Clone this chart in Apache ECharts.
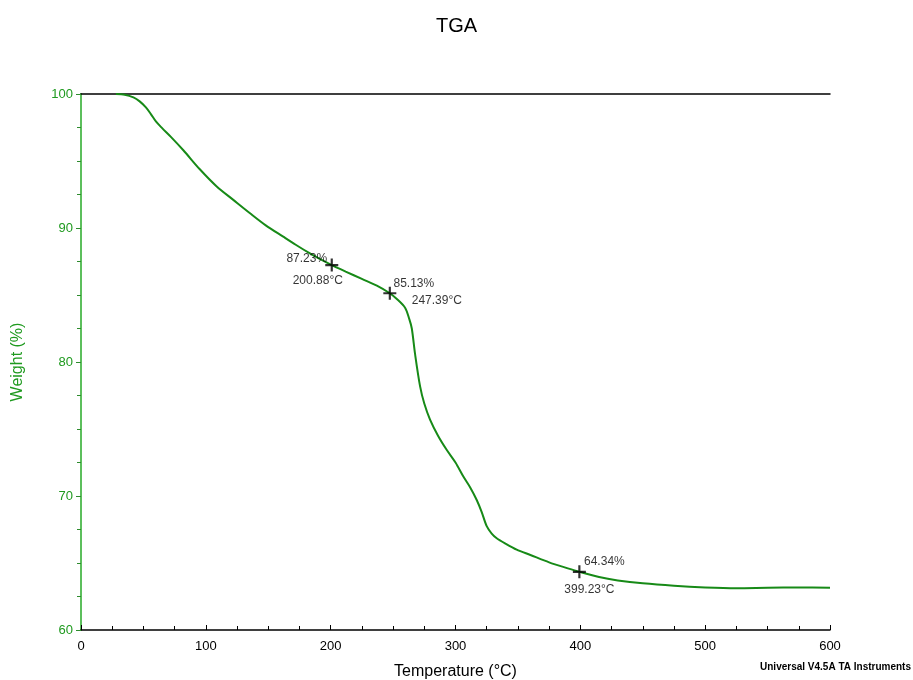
<!DOCTYPE html>
<html>
<head>
<meta charset="utf-8">
<script src="https://cdn.jsdelivr.net/npm/echarts@6/dist/echarts.min.js"></script>
<style>html,body{margin:0;padding:0;background:#fff;overflow:hidden}#c{width:913px;height:680px}</style>
</head>
<body>
<div id="c"></div>
<script>
const temperature = [28, 35, 42, 47, 52, 56, 60, 65, 72, 82, 95, 108.7, 122, 135.4, 148, 162, 172, 183.4, 192, 200.88, 212, 225, 237, 247.39, 253, 259.6, 263, 265, 267.6, 271.6, 275, 279.6, 286, 292.9, 300, 306.3, 312, 317, 321, 325, 329, 333, 340, 349, 360, 375, 390, 399.23, 415, 430, 450, 475, 500, 525, 550, 575, 600];
const weight = [100, 99.95, 99.75, 99.45, 99.0, 98.5, 97.95, 97.45, 96.8, 95.8, 94.4, 93.1, 92.1, 91.1, 90.2, 89.35, 88.75, 88.1, 87.65, 87.23, 86.75, 86.2, 85.7, 85.13, 84.7, 84.05, 83.2, 82.5, 80.6, 78.2, 76.9, 75.7, 74.5, 73.45, 72.5, 71.45, 70.6, 69.7, 68.8, 67.75, 67.2, 66.85, 66.45, 66.0, 65.6, 65.05, 64.6, 64.34, 63.95, 63.7, 63.48, 63.3, 63.18, 63.12, 63.15, 63.17, 63.15];
const markTemps = [200.88, 247.39, 399.23];
const markWeights = [87.23, 85.13, 64.34];
const xTicks = [0, 100, 200, 300, 400, 500, 600];
const yTicks = [60, 70, 80, 90, 100];

const chart = echarts.init(document.getElementById('c'));
const FONT = '"Liberation Sans", Arial, sans-serif';
const pctOffsets = [[-25, -6], [24, -10], [25, -10]];
const degOffsets = [[-14, 16], [47, 7], [10, 18]];
const plus = 'path://M-1,-6L1,-6L1,-1L6,-1L6,1L1,1L1,6L-1,6L-1,1L-6,1L-6,-1L-1,-1Z';

chart.setOption({
  animation: false,
  title: {text: 'TGA', left: 'center', top: 11, textStyle: {fontFamily: FONT, fontSize: 20, fontWeight: 'normal', color: '#000'}},
  grid: {left: 81, right: 83, top: 94, bottom: 50, containLabel: false, outerBoundsMode: 'none'},
  xAxis: [{
    type: 'value', min: 0, max: 600, interval: 100,
    name: 'Temperature (°C)', nameLocation: 'middle', nameGap: 34,
    nameTextStyle: {fontFamily: FONT, fontSize: 16, color: '#000'},
    axisLine: {lineStyle: {color: '#000', width: 1.5}},
    axisTick: {inside: true, length: 5, lineStyle: {color: '#000'}},
    minorTick: {show: true, splitNumber: 4, length: 4, lineStyle: {color: '#000'}},
    axisLabel: {fontFamily: FONT, fontSize: 13, color: '#000', margin: 10},
    splitLine: {show: false}
  }, {
    type: 'value', position: 'top', min: 0, max: 600,
    axisLine: {show: true, lineStyle: {color: '#000', width: 1.5}},
    axisTick: {show: false}, axisLabel: {show: false}, splitLine: {show: false}
  }],
  yAxis: [{
    type: 'value', min: 60, max: 100, interval: 10,
    name: 'Weight (%)', nameLocation: 'middle', nameGap: 55,
    nameTextStyle: {fontFamily: FONT, fontSize: 16, color: '#1f9a1f'},
    axisLine: {show: true, lineStyle: {color: '#5cbf5c', width: 2}},
    axisTick: {show: true, length: 5, lineStyle: {color: '#2e8b2e'}},
    minorTick: {show: true, splitNumber: 4, length: 4, lineStyle: {color: '#2e8b2e'}},
    axisLabel: {fontFamily: FONT, fontSize: 13, color: '#1f9a1f', margin: 8},
    splitLine: {show: false}
  }, {
    type: 'value', position: 'right', min: 60, max: 100,
    axisLine: {show: true, lineStyle: {color: '#5cbf5c', width: 2}},
    axisTick: {show: false}, axisLabel: {show: false}, splitLine: {show: false}
  }],
  series: [{
    type: 'line', smooth: 0.3, symbol: 'none',
    data: temperature.map((t, i) => [t, weight[i]]),
    lineStyle: {color: '#178a17', width: 2}
  }, {
    type: 'scatter', symbol: plus, symbolSize: 13,
    itemStyle: {color: '#000'},
    data: markTemps.map((t, i) => ({
      value: [t, markWeights[i]],
      label: {show: true, formatter: markWeights[i].toFixed(2) + '%', offset: pctOffsets[i], color: '#000', fontFamily: FONT, fontSize: 12}
    })),
    z: 5
  }, {
    type: 'scatter', symbolSize: 0,
    data: markTemps.map((t, i) => ({
      value: [t, markWeights[i]],
      label: {show: true, formatter: markTemps[i].toFixed(2) + '°C', offset: degOffsets[i], color: '#000', fontFamily: FONT, fontSize: 12}
    })),
    z: 5
  }],
  graphic: [{
    type: 'text', right: 2, top: 662,
    style: {text: 'Universal V4.5A TA Instruments', font: 'bold 10px ' + FONT, fill: '#000'}
  }]
});
</script>
</body>
</html>
